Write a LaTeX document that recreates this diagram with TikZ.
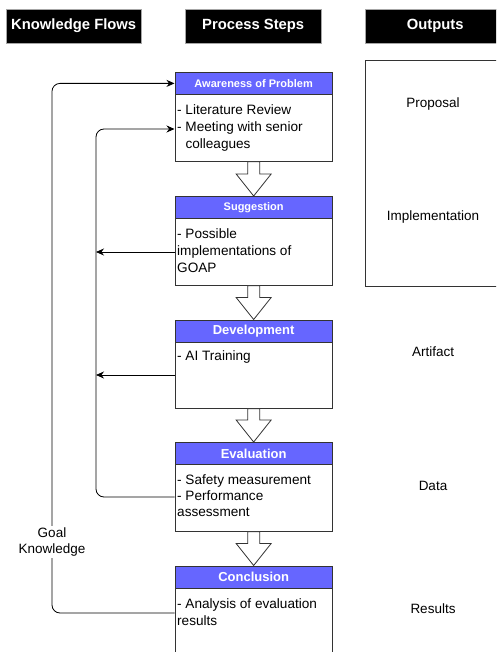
\documentclass[tikz,border=0pt]{standalone}
\usepackage{fontspec}
\setmainfont{Liberation Sans}
\usetikzlibrary{arrows.meta,calc}
\definecolor{hdr}{HTML}{6666FF}
\definecolor{edge}{HTML}{333333}
\newcommand\hollowarr[2]{%
  \draw[edge, line width=0.8pt, fill=white, line join=miter]
    ($(#1.south)+(-6,0)$) -- ($(#1.south)+(6,0)$) -- ($(#2.north)+(6,-22)$) --
    ($(#2.north)+(17.5,-22)$) -- (#2.north) -- ($(#2.north)+(-17.5,-22)$) --
    ($(#2.north)+(-6,-22)$) -- cycle;}
\begin{document}
\begin{tikzpicture}[x=1pt,y=-1pt,
  colhead/.style={fill=black, draw=gray!70, text=white, font=\bfseries\fontsize{14.8}{17}\selectfont,
    minimum width=135pt, minimum height=34pt, inner sep=0pt, anchor=north west},
  stephead/.style={fill=hdr, draw=edge, text=white, line width=0.8pt,
    minimum width=157.5pt, minimum height=22pt, inner sep=0pt, anchor=north west},
  smallhead/.style={stephead, font=\bfseries\fontsize{11}{13}\selectfont},
  bighead/.style={stephead, font=\bfseries\fontsize{13}{15}\selectfont},
  stepbody/.style={fill=white, draw=edge, line width=0.8pt,
    minimum width=157.5pt, inner sep=0pt, anchor=north west},
  bodytext/.style={font=\fontsize{13.6}{17}\selectfont, align=left, inner sep=0pt, anchor=north west},
  outtext/.style={font=\fontsize{13.5}{16}\selectfont, inner sep=0pt},
  conn/.style={black, line width=0.8pt, rounded corners=8pt},
  tip/.style={-{Stealth[length=8pt,width=7pt]}}
]
\clip (0,0) rectangle (496,652);
\fill[white] (0,0) rectangle (496,652);

% column headers
\node[colhead] (kf) at (6,9) {Knowledge Flows};
\node[colhead, minimum width=136pt] (ps) at (185,9) {Process Steps};
\node[colhead, minimum width=140pt] (op) at (365,9) {Outputs};

% outputs frame
\draw[edge, line width=0.8pt] (500,60) -- (365,60) -- (365,286) -- (500,286);
\node[outtext] (o1) at (433,104.5) {Proposal};
\node[outtext] (o2) at (433,217.5) {Implementation};
\node[outtext] (o3) at (433,351.5) {Artifact};
\node[outtext] (o4) at (433,486) {Data};
\node[outtext] (o5) at (433,609) {Results};

% step boxes
\node[stepbody, minimum height=67pt] (b1) at (174.5,94) {};
\node[smallhead] (h1) at (174.5,72) {Awareness of Problem};
\node[bodytext] (t1) at (177,104) {- Literature Review\\- Meeting with senior\\\phantom{- }colleagues};

\node[stepbody, minimum height=67pt] (b2) at (174.5,218) {};
\node[smallhead] (h2) at (174.5,196) {Suggestion};
\node[bodytext] (t2) at (177,228) {- Possible\\implementations of\\GOAP};

\node[stepbody, minimum height=66pt] (b3) at (174.5,342) {};
\node[bighead] (h3) at (174.5,319.5) {Development};
\node[bodytext] (t3) at (177,350) {- AI Training};

\node[stepbody, minimum height=67pt] (b4) at (174.5,464) {};
\node[bighead] (h4) at (174.5,442) {Evaluation};
\node[bodytext, font=\fontsize{13.6}{16}\selectfont] (t4) at (177,474) {- Safety measurement\\- Performance\\assessment};

\node[stepbody, minimum height=80pt] (b5) at (174.5,587) {};
\node[bighead] (h5) at (174.5,565.5) {Conclusion};
\node[bodytext] (t5) at (177,598) {- Analysis of evaluation\\results};

% hollow arrows between steps
\hollowarr{b1}{h2}
\hollowarr{b2}{h3}
\hollowarr{b3}{h4}
\hollowarr{b4}{h5}

% knowledge flow lines
\coordinate (lo) at (52,0);
\coordinate (li) at (96,0);
\draw[conn, tip] ([yshift=-26pt]b5.north west) -- ([yshift=-26pt]b5.north west -| lo)
  -- (h1.west -| lo) -- (h1.west);
\draw[conn, tip] ([yshift=-33pt]b4.north west) -- ([yshift=-33pt]b4.north west -| li)
  -- ([yshift=-35pt]b1.north west -| li) -- ([yshift=-35pt]b1.north west);
\draw[conn, tip] ([yshift=-34pt]b2.north west) -- ([yshift=-34pt]b2.north west -| li);
\draw[conn, tip] ([yshift=-33pt]b3.north west) -- ([yshift=-33pt]b3.north west -| li);

\node[fill=white, align=center, inner sep=1pt, font=\fontsize{13.5}{16.5}\selectfont] (gk) at (52,542) {Goal\\Knowledge};
\end{tikzpicture}
\end{document}
